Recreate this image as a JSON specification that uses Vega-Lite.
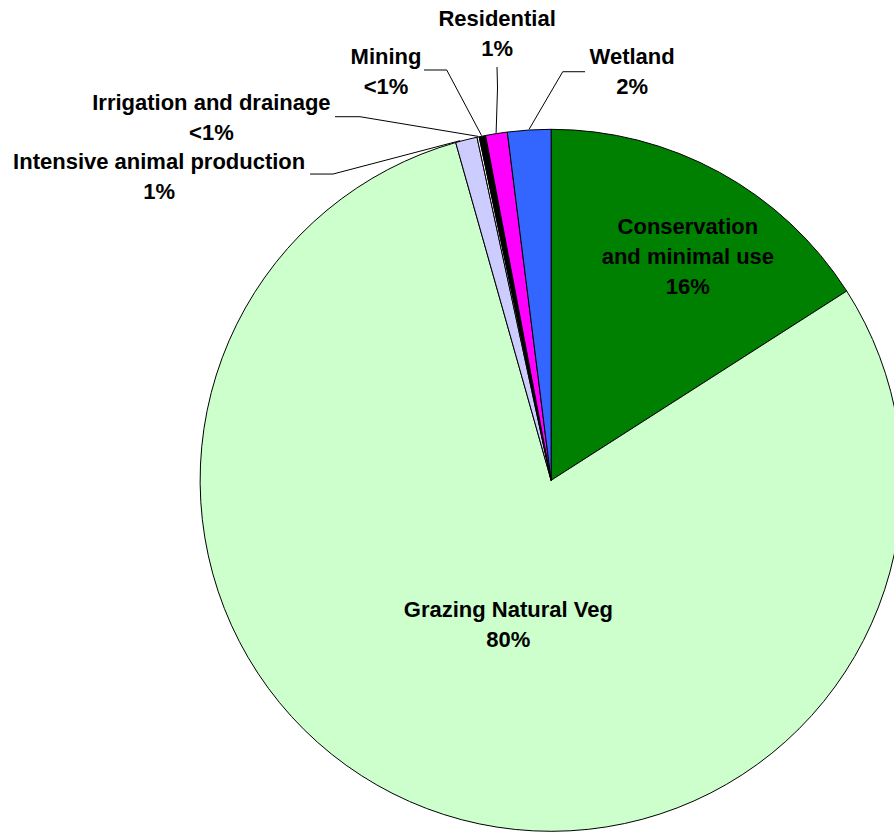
{
  "$schema": "https://vega.github.io/schema/vega-lite/v6.json",
  "width": 894,
  "height": 833,
  "padding": 0,
  "autosize": {"type": "none"},
  "background": "white",
  "config": {
    "view": {"stroke": null},
    "axis": {"disable": true},
    "text": {
      "font": "Liberation Sans",
      "fontSize": 22,
      "fontWeight": "bold",
      "color": "#000000",
      "lineHeight": 30,
      "lineBreak": "\n",
      "align": "center",
      "baseline": "middle"
    },
    "rule": {"color": "#000000", "strokeWidth": 1}
  },
  "data": {
    "values": [
      {"category": "Conservation and minimal use", "value": 16, "label": "Conservation\nand minimal use\n16%"},
      {"category": "Grazing Natural Veg", "value": 80, "label": "Grazing Natural Veg\n80%"},
      {"category": "Intensive animal production", "value": 1, "label": "Intensive animal production\n1%"},
      {"category": "Irrigation and drainage", "value": 0.1, "label": "Irrigation and drainage\n<1%"},
      {"category": "Mining", "value": 0.3, "label": "Mining\n<1%"},
      {"category": "Residential", "value": 1, "label": "Residential\n1%"},
      {"category": "Wetland", "value": 2, "label": "Wetland\n2%"}
    ]
  },
  "layer": [
    {
      "mark": {"type": "arc", "outerRadius": 351, "stroke": "#000000", "strokeWidth": 1},
      "encoding": {
        "x": {"datum": 0, "type": "quantitative", "scale": {"domain": [-157.2, 97.8], "nice": false, "zero": false}, "axis": null},
        "y": {"datum": 0, "type": "quantitative", "scale": {"domain": [-100.6, 137.0], "nice": false, "zero": false}, "axis": null},
        "theta": {"field": "value", "type": "quantitative", "stack": true},
        "order": {"field": "category", "type": "ordinal", "sort": "ascending"},
        "color": {
          "field": "category",
          "type": "nominal",
          "legend": null,
          "scale": {
            "domain": ["Conservation and minimal use", "Grazing Natural Veg", "Intensive animal production", "Irrigation and drainage", "Mining", "Residential", "Wetland"],
            "range": ["#008000", "#CCFFCC", "#CCCCFF", "#FFFFFF", "#000000", "#FF00FF", "#3366FF"]
          }
        }
      }
    },
    {
      "transform": [{"filter": {"field": "category", "equal": "Conservation and minimal use"}}],
      "mark": "text",
      "encoding": {"x": {"datum": 39.0, "type": "quantitative"}, "y": {"datum": 72.3, "type": "quantitative"}, "text": {"field": "label"}}
    },
    {
      "transform": [{"filter": {"field": "category", "equal": "Grazing Natural Veg"}}],
      "mark": "text",
      "encoding": {"x": {"datum": -12.2, "type": "quantitative"}, "y": {"datum": -37.1, "type": "quantitative"}, "text": {"field": "label"}}
    },
    {
      "transform": [{"filter": {"field": "category", "equal": "Intensive animal production"}}],
      "mark": "text",
      "encoding": {"x": {"datum": -111.8, "type": "quantitative"}, "y": {"datum": 90.9, "type": "quantitative"}, "text": {"field": "label"}}
    },
    {
      "transform": [{"filter": {"field": "category", "equal": "Intensive animal production"}}],
      "mark": "rule",
      "encoding": {"x": {"datum": -68.77, "type": "quantitative"}, "y": {"datum": 87.36, "type": "quantitative"}, "x2": {"datum": -62.21}, "y2": {"datum": 87.36}}
    },
    {
      "transform": [{"filter": {"field": "category", "equal": "Intensive animal production"}}],
      "mark": "rule",
      "encoding": {"x": {"datum": -62.21, "type": "quantitative"}, "y": {"datum": 87.36, "type": "quantitative"}, "x2": {"datum": -25.96}, "y2": {"datum": 96.88}}
    },
    {
      "transform": [{"filter": {"field": "category", "equal": "Irrigation and drainage"}}],
      "mark": "text",
      "encoding": {"x": {"datum": -96.9, "type": "quantitative"}, "y": {"datum": 107.5, "type": "quantitative"}, "text": {"field": "label"}}
    },
    {
      "transform": [{"filter": {"field": "category", "equal": "Irrigation and drainage"}}],
      "mark": "rule",
      "encoding": {"x": {"datum": -61.64, "type": "quantitative"}, "y": {"datum": 103.71, "type": "quantitative"}, "x2": {"datum": -54.51}, "y2": {"datum": 103.71}}
    },
    {
      "transform": [{"filter": {"field": "category", "equal": "Irrigation and drainage"}}],
      "mark": "rule",
      "encoding": {"x": {"datum": -54.51, "type": "quantitative"}, "y": {"datum": 103.71, "type": "quantitative"}, "x2": {"datum": -20.85}, "y2": {"datum": 98.11}}
    },
    {
      "transform": [{"filter": {"field": "category", "equal": "Mining"}}],
      "mark": "text",
      "encoding": {"x": {"datum": -47.1, "type": "quantitative"}, "y": {"datum": 120.6, "type": "quantitative"}, "text": {"field": "label"}}
    },
    {
      "transform": [{"filter": {"field": "category", "equal": "Mining"}}],
      "mark": "rule",
      "encoding": {"x": {"datum": -36.25, "type": "quantitative"}, "y": {"datum": 117.03, "type": "quantitative"}, "x2": {"datum": -29.78}, "y2": {"datum": 117.03}}
    },
    {
      "transform": [{"filter": {"field": "category", "equal": "Mining"}}],
      "mark": "rule",
      "encoding": {"x": {"datum": -29.78, "type": "quantitative"}, "y": {"datum": 117.03, "type": "quantitative"}, "x2": {"datum": -19.83}, "y2": {"datum": 98.32}}
    },
    {
      "transform": [{"filter": {"field": "category", "equal": "Residential"}}],
      "mark": "text",
      "encoding": {"x": {"datum": -15.4, "type": "quantitative"}, "y": {"datum": 131.7, "type": "quantitative"}, "text": {"field": "label"}}
    },
    {
      "transform": [{"filter": {"field": "category", "equal": "Residential"}}],
      "mark": "rule",
      "encoding": {"x": {"datum": -15.43, "type": "quantitative"}, "y": {"datum": 117.89, "type": "quantitative"}, "x2": {"datum": -15.29}, "y2": {"datum": 111.9}}
    },
    {
      "transform": [{"filter": {"field": "category", "equal": "Residential"}}],
      "mark": "rule",
      "encoding": {"x": {"datum": -15.29, "type": "quantitative"}, "y": {"datum": 111.9, "type": "quantitative"}, "x2": {"datum": -15.69}, "y2": {"datum": 99.07}}
    },
    {
      "transform": [{"filter": {"field": "category", "equal": "Wetland"}}],
      "mark": "text",
      "encoding": {"x": {"datum": 23.1, "type": "quantitative"}, "y": {"datum": 120.6, "type": "quantitative"}, "text": {"field": "label"}}
    },
    {
      "transform": [{"filter": {"field": "category", "equal": "Wetland"}}],
      "mark": "rule",
      "encoding": {"x": {"datum": 9.67, "type": "quantitative"}, "y": {"datum": 116.54, "type": "quantitative"}, "x2": {"datum": 3.31}, "y2": {"datum": 116.54}}
    },
    {
      "transform": [{"filter": {"field": "category", "equal": "Wetland"}}],
      "mark": "rule",
      "encoding": {"x": {"datum": 3.31, "type": "quantitative"}, "y": {"datum": 116.54, "type": "quantitative"}, "x2": {"datum": -6.3}, "y2": {"datum": 100.1}}
    }
  ]
}
